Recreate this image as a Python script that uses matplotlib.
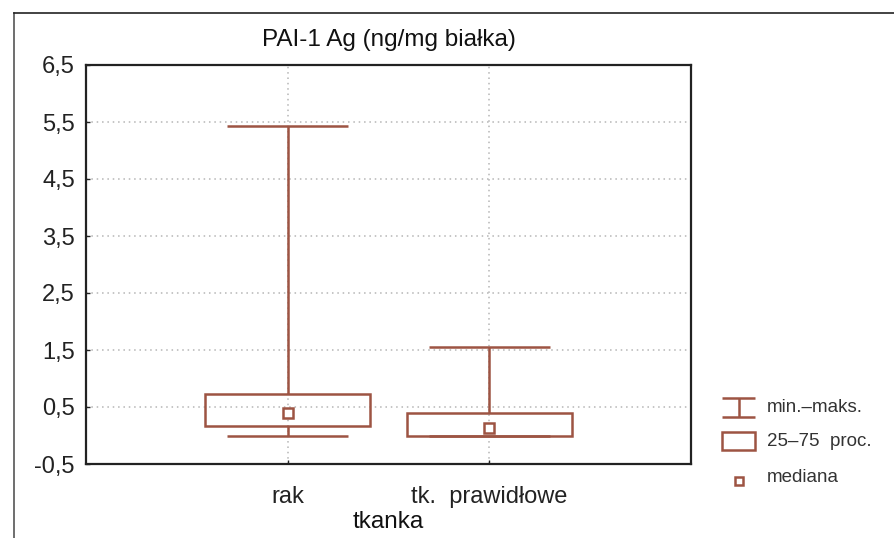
import matplotlib.pyplot as plt
from matplotlib.patches import Rectangle
from matplotlib.lines import Line2D

plt.rcParams['font.family'] = ['Liberation Sans', 'DejaVu Sans']

# data
categories = ['rak', 'tk.  prawidłowe']
minimum = [0.0, 0.0]
q25 = [0.17, 0.0]
median = [0.39, 0.13]
q75 = [0.73, 0.39]
maximum = [5.43, 1.55]
yticks = [-0.5, 0.5, 1.5, 2.5, 3.5, 4.5, 5.5, 6.5]
ytick_labels = ['-0,5', '0,5', '1,5', '2,5', '3,5', '4,5', '5,5', '6,5']
legend_labels = ['min.\u2013maks.', '25\u201375  proc.', 'mediana']

col = '#9d5443'
W, H = 894, 538
fig = plt.figure(figsize=(W / 100, H / 100), dpi=100)

# outer frame (only top and left edges visible)
fig.add_artist(Line2D([14 / W, 14 / W], [0, 1 - 13 / H], color='#555555', lw=1.2))
fig.add_artist(Line2D([14 / W, 1], [1 - 13 / H, 1 - 13 / H], color='#222222', lw=1.2))

ax = fig.add_axes([86 / W, 1 - 464 / H, 605 / W, 399 / H])
xpos = [1, 2]
box_w = 0.82
cap_w = 0.6

for i, x in enumerate(xpos):
    ax.add_patch(Rectangle((x - box_w / 2, q25[i]), box_w, q75[i] - q25[i],
                           fill=False, edgecolor=col, lw=1.8, zorder=3))
    ax.vlines(x, q75[i], maximum[i], color=col, lw=1.8, zorder=3)
    ax.vlines(x, minimum[i], q25[i], color=col, lw=1.8, zorder=3)
    ax.hlines([maximum[i], minimum[i]], x - cap_w / 2, x + cap_w / 2, color=col, lw=1.8, zorder=3)
    ax.plot(x, median[i], 's', ms=7, mfc='white', mec=col, mew=1.8, zorder=4)

ax.set_xlim(0, 3)
ax.set_ylim(-0.5, 6.5)
ax.set_yticks(yticks)
ax.set_yticklabels(ytick_labels)
ax.set_xticks(xpos)
ax.set_xticklabels(categories)
ax.grid(True, linestyle=(0, (1, 2.5)), color='#b5b5b5', lw=1.1)
ax.tick_params(axis='both', direction='in', length=3, width=1, labelsize=17, colors='#222222', pad=8)
ax.tick_params(axis='x', pad=16)
for s in ax.spines.values():
    s.set_linewidth(1.6)
    s.set_color('#222222')
ax.set_title('PAI-1 Ag (ng/mg białka)', fontsize=17.5, pad=14, color='#111111')
ax.set_xlabel('tkanka', fontsize=17.5, labelpad=2, color='#111111')

# legend drawn in pixel coordinates
lg = fig.add_axes([0, 0, 1, 1], facecolor='none')
lg.set_xlim(0, W)
lg.set_ylim(H, 0)
lg.axis('off')
lg.hlines([398, 417], 722, 755, color=col, lw=1.8)
lg.vlines(738.5, 398, 417, color=col, lw=1.8)
lg.add_patch(Rectangle((722, 432), 33, 18, fill=False, edgecolor=col, lw=1.8))
lg.plot(739, 481, 's', ms=6, mfc='white', mec=col, mew=1.8)
for yy, lab in zip([407, 441, 477], legend_labels):
    lg.text(767, yy, lab, fontsize=13.5, va='center', ha='left', color='#333333')

fig.savefig('out.png', dpi=100)
